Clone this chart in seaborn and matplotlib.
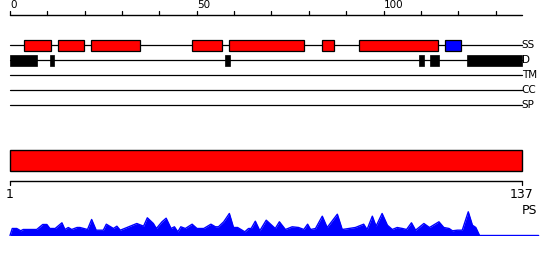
import matplotlib
matplotlib.use("Agg")
import matplotlib.pyplot as plt
import seaborn as sns
import pandas as pd
from matplotlib.patches import Rectangle

sns.set_theme(style="white")
plt.rcParams['font.family'] = ['DejaVu Sans']

# ---- data ----
seq_length = 137
track_names = ["SS", "D", "TM", "CC", "SP"]
helix_starts = [3.8, 12.9, 21.8, 48.8, 58.7, 83.6, 93.5]
helix_ends = [10.9, 19.9, 34.9, 56.8, 78.8, 86.7, 114.7]
strand_starts = [116.5]
strand_ends = [120.7]
disorder_starts = [0.0, 10.7, 57.6, 109.5, 112.4, 122.4]
disorder_ends = [7.1, 11.9, 58.9, 110.8, 114.8, 137.0]
top_tick_values = list(range(0, 131, 10))
top_tick_labels = ["0", "50", "100"]
domain_start = 1
domain_end = 137
ps_residue = [1.0, 1.6, 2.8, 3.85, 4.5, 8.1, 9.7, 10.8, 11.6, 13.0, 14.8, 15.6, 16.5, 17.4,
              18.8, 19.6, 21.6, 22.7, 23.9, 25.8, 26.6, 28.5, 29.4, 30.3, 32.1, 34.7, 36.5,
              37.5, 39.1, 39.9, 41.4, 42.5, 43.8, 44.7, 45.6, 46.4, 47.6, 49.4, 50.7, 52.5,
              54.4, 55.6, 56.4, 57.8, 59.3, 60.4, 61.5, 63.4, 64.4, 65.1, 66.2, 67.4, 69.1,
              71.5, 72.6, 74.2, 76.0, 77.7, 79.1, 80.1, 80.9, 82.2, 84.0, 85.3, 88.0, 89.3,
              92.8, 95.0, 95.9, 97.3, 98.3, 99.9, 101.3, 102.6, 103.9, 105.3, 106.4, 107.7,
              108.8, 111.0, 112.5, 115.0, 116.3, 117.7, 118.6, 119.9, 121.2, 122.8, 123.9,
              124.8, 125.8, 141.5]
ps_score = [0, 7, 7, 4.7, 6, 6, 11, 11, 7, 7, 12.7, 6, 8, 6,
            8, 8, 6, 16, 5.3, 5.3, 11.3, 7, 9.3, 5.3, 8, 12, 9.3,
            17.7, 12, 7, 13.7, 17.3, 7, 8.7, 3.7, 8.7, 7, 11.3, 7, 7,
            11.3, 8.7, 8.7, 13.7, 22, 8, 8, 3.7, 7, 7, 14.3, 4.7, 15.3,
            7, 13.7, 6, 8.7, 8, 6, 11.3, 6, 7, 19.3, 8, 21.3, 6,
            8, 11.3, 6, 19.3, 9.3, 22, 10.3, 6, 8, 7, 6, 12.7,
            5.3, 12, 8, 13.7, 8, 7, 4.7, 5.3, 5.3, 23.7, 10.3,
            8, 0, 0]

W, H = 550, 260
fig = plt.figure(figsize=(W / 100, H / 100), dpi=100)

x0_px, x1_px = 10.0, 521.7
ppu = (x1_px - x0_px) / seq_length

# ---- main track axes: x in sequence units, y in pixel rows ----
ax = fig.add_axes([0, 0, 1, 1])
ax.set_xlim(-x0_px / ppu, (W - x0_px) / ppu)
ax.set_ylim(H, 0)
ax.axis("off")

# top ruler
ax.plot([0, seq_length], [14.5, 14.5], color="black", lw=1.0)
for t in top_tick_values:
    ax.plot([t, t], [10.5, 14.5], color="black", lw=0.9)
for lab in top_tick_labels:
    ax.text(float(lab), 10.5, lab, ha="left", va="bottom", fontsize=7.5, color="black")

track_y = [45, 60, 75, 90, 105]
for name, y in zip(track_names, track_y):
    ax.plot([0, seq_length], [y, y], color="black", lw=0.9)
    ax.text(seq_length, y, name, ha="left", va="center", fontsize=7.5, color="black")

# SS boxes
for s, e in zip(helix_starts, helix_ends):
    ax.add_patch(Rectangle((s, 40.3), e - s, 10.2, facecolor="#ff0000", edgecolor="black", lw=0.9, zorder=3))
for s, e in zip(strand_starts, strand_ends):
    ax.add_patch(Rectangle((s, 40.3), e - s, 10.2, facecolor="#0000ff", edgecolor="black", lw=0.9, zorder=3))
# disorder boxes
for s, e in zip(disorder_starts, disorder_ends):
    ax.add_patch(Rectangle((s, 55), e - s, 11, facecolor="black", edgecolor="black", lw=0.5, zorder=3))

# ---- domain bar + bottom ruler (residue units) ----
axb = fig.add_axes([0, 0, 1, 1])
rpu = (x1_px - x0_px) / (domain_end - domain_start)
axb.set_xlim(domain_start - x0_px / rpu, domain_start + (W - x0_px) / rpu)
axb.set_ylim(H, 0)
axb.axis("off")
axb.patch.set_alpha(0)
axb.add_patch(Rectangle((domain_start, 150.3), domain_end - domain_start, 20.3,
                        facecolor="#ff0000", edgecolor="black", lw=1, zorder=3))
axb.plot([domain_start, domain_end], [180.5, 180.5], color="black", lw=1.0)
for t in [domain_start, domain_end]:
    axb.plot([t, t], [180.5, 185], color="black", lw=0.9)
axb.text(domain_start, 187.5, str(domain_start), ha="center", va="top", fontsize=9, color="black")
axb.text(domain_end, 187.5, str(domain_end), ha="center", va="top", fontsize=9, color="black")
axb.text(domain_end, 203.5, "PS", ha="left", va="top", fontsize=9, color="black")

# ---- PS profile ----
base_px = 235.5
axp = fig.add_axes([0, (H - base_px) / H, 1, 30 / H])
axp.set_xlim(domain_start - x0_px / rpu, domain_start + (W - x0_px) / rpu)
axp.set_ylim(0, 30)
axp.axis("off")
axp.patch.set_alpha(0)
df = pd.DataFrame({"residue": ps_residue, "score": ps_score})
axp.fill_between(df["residue"], 0, df["score"], color="#0000ff", lw=0)
sns.lineplot(data=df, x="residue", y="score", ax=axp, color="#0000ff", lw=1.0, legend=False)

fig.savefig("out.png", dpi=100)
